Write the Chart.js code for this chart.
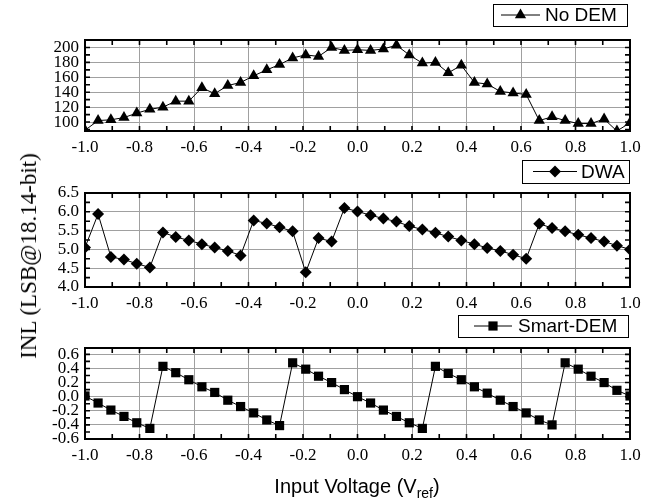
<!DOCTYPE html>
<html>
<head>
<meta charset="utf-8">
<script src="https://cdn.jsdelivr.net/npm/chart.js@4.4.0/dist/chart.umd.min.js"></script>
<style>
    html, body { margin: 0; padding: 0; background: #fff; }
    #wrap { position: relative; width: 660px; height: 502px; overflow: hidden; }
    .panel { position: absolute; left: 0; width: 660px; }
    #ytitle {
        position: absolute; left: 29px; top: 256px;
        transform: translate(-50%, -50%) rotate(-90deg);
        font: 23px 'Liberation Serif'; white-space: nowrap; color: #000;
    }
</style>
</head>
<body>
<div id="wrap">
    <div class="panel" style="top:0;height:155px"><canvas id="chartNoDem" width="660" height="155"></canvas></div>
    <div class="panel" style="top:155px;height:155px"><canvas id="chartDwa" width="660" height="155"></canvas></div>
    <div class="panel" style="top:310px;height:192px"><canvas id="chartSmart" width="660" height="192"></canvas></div>
    <div id="ytitle">INL (LSB@18.14-bit)</div>
</div>
<script>
// Data
const inputVoltage = [
    -1.000, -0.952, -0.905, -0.857, -0.810, -0.762, -0.714, -0.667, -0.619, -0.571, -0.524,
    -0.476, -0.429, -0.381, -0.333, -0.286, -0.238, -0.190, -0.143, -0.095, -0.048,
    0.000, 0.048, 0.095, 0.143, 0.190, 0.238, 0.286, 0.333, 0.381, 0.429,
    0.476, 0.524, 0.571, 0.619, 0.667, 0.714, 0.762, 0.810, 0.857, 0.905, 0.952, 1.000
];
const inlNoDem = [
    89, 102, 103, 106, 112, 117, 120, 128, 128, 146, 138,
    149, 153, 162, 170, 177, 186, 190, 188, 200, 196,
    197, 196, 198, 203, 190, 179, 180, 166, 176, 153,
    151, 141, 139, 137, 102, 107, 102, 98, 98, 104, 88, 99
];
const inlDwa = [
    5.05, 5.94, 4.80, 4.73, 4.62, 4.52, 5.45, 5.33, 5.24, 5.14, 5.05,
    4.96, 4.84, 5.77, 5.69, 5.59, 5.48, 4.39, 5.30, 5.21, 6.10,
    6.01, 5.91, 5.82, 5.74, 5.62, 5.53, 5.44, 5.34, 5.24, 5.14,
    5.04, 4.96, 4.86, 4.75, 5.68, 5.57, 5.48, 5.39, 5.30, 5.21, 5.10, 5.00
];
const inlSmartDem = [
    0.01, -0.09, -0.19, -0.28, -0.37, -0.45, 0.43, 0.34, 0.24, 0.14, 0.06,
    -0.05, -0.14, -0.23, -0.33, -0.41, 0.48, 0.39, 0.29, 0.20, 0.10,
    0.00, -0.09, -0.19, -0.28, -0.37, -0.45, 0.43, 0.33, 0.24, 0.14,
    0.05, -0.05, -0.14, -0.23, -0.33, -0.40, 0.48, 0.39, 0.29, 0.20, 0.09, 0.01
];
const seriesNames = ['No DEM', 'DWA', 'Smart-DEM'];

// Tick labels
const xTickValues = [-1.0, -0.8, -0.6, -0.4, -0.2, 0.0, 0.2, 0.4, 0.6, 0.8, 1.0];
const yTicksNoDem = [100, 120, 140, 160, 180, 200];
const yTicksDwa = [4.0, 4.5, 5.0, 5.5, 6.0, 6.5];
const yTicksSmart = [-0.6, -0.4, -0.2, 0.0, 0.2, 0.4, 0.6];
const xAxisTitle = 'Input Voltage (V';
const xAxisTitleSub = 'ref';

const tickFont = { family: "'Liberation Serif'", size: 17 };
const sansFamily = "'Liberation Sans'";
const gridColor = '#a0a0a0';

// black frame + inward tick marks on all four sides
const framePlugin = {
    id: 'frame',
    afterDraw(chart, args, o) {
        const { ctx, chartArea: a, scales: { x, y } } = chart;
        ctx.save();
        ctx.strokeStyle = '#000';
        ctx.lineWidth = 1.6;
        ctx.beginPath();
        const nx = Math.round((x.max - x.min) / o.xStep);
        for (let i = 0; i <= nx; i++) {
            const px = x.getPixelForValue(x.min + i * o.xStep);
            ctx.moveTo(px, a.bottom); ctx.lineTo(px, a.bottom - o.tick);
            ctx.moveTo(px, a.top); ctx.lineTo(px, a.top + o.tick);
        }
        const y0 = Math.ceil(y.min / o.yStep - 1e-6);
        const y1 = Math.floor(y.max / o.yStep + 1e-6);
        for (let k = y0; k <= y1; k++) {
            const py = y.getPixelForValue(k * o.yStep);
            ctx.moveTo(a.left, py); ctx.lineTo(a.left + o.tick, py);
            ctx.moveTo(a.right, py); ctx.lineTo(a.right - o.tick, py);
        }
        ctx.stroke();
        ctx.lineWidth = 2;
        ctx.strokeRect(a.left, a.top, a.width, a.height);
        ctx.restore();
    }
};

// boxed legend "—marker— name"
const legendBoxPlugin = {
    id: 'legendBox',
    afterDraw(chart, args, o) {
        const ctx = chart.ctx;
        const ds = chart.data.datasets[0];
        const cy = o.top + o.height / 2;
        ctx.save();
        ctx.fillStyle = '#fff';
        ctx.fillRect(o.left, o.top, o.width, o.height);
        ctx.strokeStyle = '#000';
        ctx.lineWidth = 1;
        ctx.strokeRect(o.left + 0.5, o.top + 0.5, o.width, o.height);
        ctx.beginPath();
        ctx.moveTo(o.lineFrom, cy);
        ctx.lineTo(o.lineTo, cy);
        ctx.stroke();
        ctx.fillStyle = '#000';
        Chart.helpers.drawPoint(ctx, { pointStyle: ds.pointStyle, radius: ds.pointRadius, borderWidth: 0, rotation: 0 },
            (o.lineFrom + o.lineTo) / 2, cy);
        ctx.font = o.fontSize + 'px ' + sansFamily;
        ctx.textBaseline = 'middle';
        ctx.textAlign = 'left';
        ctx.fillText(ds.label, o.textX, cy + 1);
        ctx.restore();
    }
};

// x title with subscript (bottom panel only)
const xTitlePlugin = {
    id: 'xTitle',
    afterDraw(chart, args, o) {
        if (!o.show) return;
        const ctx = chart.ctx;
        ctx.save();
        ctx.fillStyle = '#000';
        ctx.textBaseline = 'alphabetic';
        const mainFont = '20px ' + sansFamily;
        const subFont = '14px ' + sansFamily;
        ctx.font = mainFont;
        const w1 = ctx.measureText(xAxisTitle).width;
        const w3 = ctx.measureText(')').width;
        ctx.font = subFont;
        const w2 = ctx.measureText(xAxisTitleSub).width;
        const x0 = o.cx - (w1 + w2 + w3) / 2;
        ctx.font = mainFont;
        ctx.fillText(xAxisTitle, x0, o.baseline);
        ctx.font = subFont;
        ctx.fillText(xAxisTitleSub, x0 + w1, o.baseline + 5);
        ctx.font = mainFont;
        ctx.fillText(')', x0 + w1 + w2, o.baseline);
        ctx.restore();
    }
};

function buildChart(id, cfg) {
    const ctx = document.getElementById(id).getContext('2d');
    return new Chart(ctx, {
        type: 'line',
        data: {
            datasets: [{
                label: cfg.name,
                data: inputVoltage.map((v, i) => ({ x: v, y: cfg.values[i] })),
                borderColor: '#000',
                borderWidth: 1,
                pointStyle: cfg.pointStyle,
                pointRadius: cfg.radius,
                pointBackgroundColor: '#000',
                pointBorderColor: '#000',
                pointBorderWidth: 0,
                tension: 0
            }]
        },
        options: {
            responsive: false,
            animation: false,
            events: [],
            layout: { padding: { top: cfg.padTop, right: 30, left: 0, bottom: 0 } },
            scales: {
                x: {
                    type: 'linear', min: -1, max: 1,
                    afterBuildTicks: s => { s.ticks = xTickValues.map(v => ({ value: v })); },
                    afterFit: s => { s.height = cfg.xHeight; },
                    grid: { color: gridColor, lineWidth: 1, drawTicks: false },
                    border: { display: false },
                    ticks: {
                        padding: 6, color: '#000', font: tickFont,
                        maxRotation: 0, autoSkip: false,
                        callback: v => v.toFixed(1)
                    }
                },
                y: {
                    type: 'linear', min: cfg.yMin, max: cfg.yMax,
                    afterBuildTicks: s => { s.ticks = cfg.yTicks.map(v => ({ value: v })); },
                    afterFit: s => { s.width = 85; },
                    grid: { color: gridColor, lineWidth: 1, drawTicks: false },
                    border: { display: false },
                    ticks: {
                        padding: 6, color: '#000', font: tickFont, autoSkip: false,
                        callback: v => v.toFixed(cfg.decimals)
                    }
                }
            },
            plugins: {
                legend: { display: false },
                tooltip: { enabled: false },
                frame: { xStep: 0.1, yStep: cfg.yMinorStep, tick: 5 },
                legendBox: cfg.legend,
                xTitle: cfg.xTitle || { show: false }
            }
        },
        plugins: [framePlugin, legendBoxPlugin, xTitlePlugin]
    });
}

buildChart('chartNoDem', {
    name: seriesNames[0], values: inlNoDem, pointStyle: 'triangle', radius: 6.5,
    yMin: 88, yMax: 210, yTicks: yTicksNoDem, decimals: 0, yMinorStep: 10,
    padTop: 40, xHeight: 24,
    legend: { left: 493, top: 4, width: 134, height: 22, lineFrom: 501, lineTo: 540, textX: 545, fontSize: 19 }
});

buildChart('chartDwa', {
    name: seriesNames[1], values: inlDwa, pointStyle: 'rectRot', radius: 6,
    yMin: 4.0, yMax: 6.5, yTicks: yTicksDwa, decimals: 1, yMinorStep: 0.25,
    padTop: 38, xHeight: 23,
    legend: { left: 522, top: 5, width: 107, height: 23, lineFrom: 533, lineTo: 577, textX: 581, fontSize: 19 }
});

buildChart('chartSmart', {
    name: seriesNames[2], values: inlSmartDem, pointStyle: 'rect', radius: 6.5,
    yMin: -0.6, yMax: 0.69, yTicks: yTicksSmart, decimals: 1, yMinorStep: 0.1,
    padTop: 38, xHeight: 63,
    legend: { left: 458, top: 5, width: 170, height: 22, lineFrom: 474, lineTo: 512, textX: 518, fontSize: 19 },
    xTitle: { show: true, cx: 357, baseline: 183 }
});
</script>
</body>
</html>
